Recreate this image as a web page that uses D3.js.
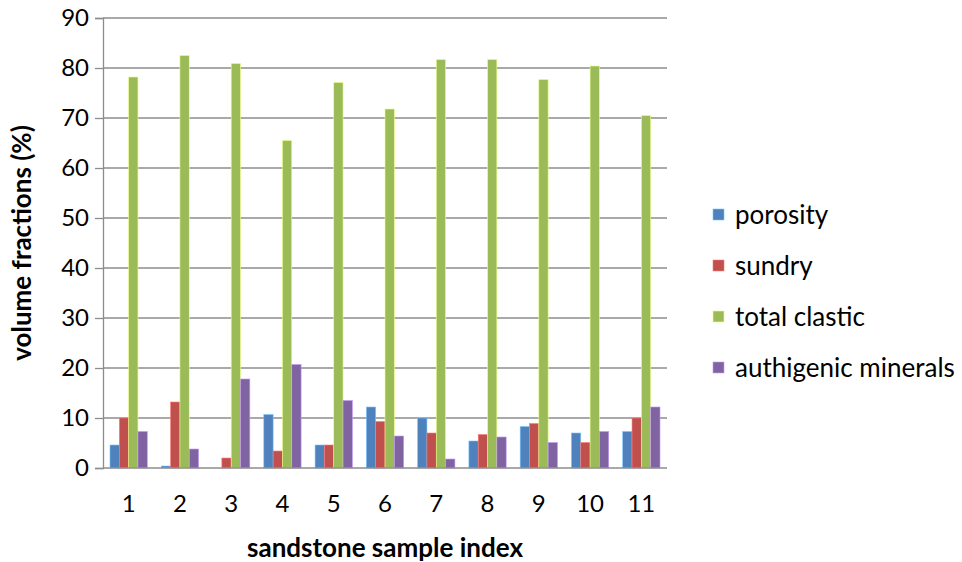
<!DOCTYPE html>
<html>
<head>
<meta charset="utf-8">
<script src="https://cdn.jsdelivr.net/npm/d3@7"></script>
<style>
  html, body { margin: 0; padding: 0; background: #fff; }
  svg { display: block; }
  text { font-family: Lato, "Liberation Sans", sans-serif; fill: #000; }
</style>
</head>
<body>
<svg id="chart" width="962" height="562"></svg>
<script>
const categories = ["1","2","3","4","5","6","7","8","9","10","11"];
const seriesNames = ["porosity","sundry","total clastic","authigenic minerals"];
const porosity   = [4.6, 0.4, 0.0, 10.7, 4.6, 12.2, 10.0, 5.4, 8.3, 7.0, 7.3];
const sundry     = [10.0, 13.2, 2.0, 3.4, 4.6, 9.3, 7.0, 6.7, 8.9, 5.1, 10.0];
const totalClastic = [78.2, 82.5, 80.9, 65.5, 77.1, 71.8, 81.7, 81.7, 77.7, 80.4, 70.5];
const authigenic = [7.3, 3.8, 17.8, 20.7, 13.5, 6.4, 1.8, 6.2, 5.1, 7.3, 12.2];
const yTicks = [0,10,20,30,40,50,60,70,80,90];
const colors = ["#4F81BD","#C0504D","#9BBB59","#8064A2"];

const seriesValues = [porosity, sundry, totalClastic, authigenic];

const svg = d3.select("#chart");
const plot = {left: 103, right: 667, top: 18, bottom: 468};

const x = d3.scaleBand().domain(categories).range([plot.left, plot.right]).paddingInner(0.2727).paddingOuter(0.1364);
const x1 = d3.scaleBand().domain(seriesNames).range([0, x.bandwidth()]);
const y = d3.scaleLinear().domain([0, 90]).range([plot.bottom, plot.top]);

// gridlines
svg.append("g").selectAll("line").data(yTicks.filter(d => d > 0)).join("line")
  .attr("x1", plot.left).attr("x2", plot.right)
  .attr("y1", d => y(d)).attr("y2", d => y(d))
  .attr("stroke", "#8c8c8c").attr("stroke-width", 1.3);

// y axis
const yAxis = d3.axisLeft(y).tickValues(yTicks).tickSize(8).tickPadding(6).tickFormat(d3.format("d"));
const gy = svg.append("g").attr("transform", `translate(${plot.left},0)`).call(yAxis);
gy.select(".domain").attr("stroke", "#8c8c8c").attr("stroke-width", 1.3);
gy.selectAll(".tick line").attr("stroke", "#8c8c8c").attr("stroke-width", 1.3);
gy.selectAll(".tick text").attr("font-size", 24).attr("font-family", "Lato, sans-serif").attr("fill", "#000");

// bars
const groups = svg.append("g").selectAll("g").data(categories).join("g")
  .attr("transform", d => `translate(${x(d)},0)`);
groups.selectAll("rect").data((d, i) => seriesNames.map((s, j) => ({s, j, v: seriesValues[j][i]})))
  .join("rect")
  .attr("x", d => x1(d.s))
  .attr("width", x1.bandwidth())
  .attr("y", d => y(d.v))
  .attr("height", d => y(0) - y(d.v))
  .attr("fill", d => colors[d.j])
  .attr("stroke", d => d3.color(colors[d.j]).brighter(1.2))
  .attr("stroke-width", 0.6);

// x axis
const xAxis = d3.axisBottom(x).tickSize(0).tickPadding(27);
const gx = svg.append("g").attr("transform", `translate(0,${plot.bottom})`).call(xAxis);
gx.select(".domain").attr("stroke", "#8c8c8c").attr("stroke-width", 1.3).attr("d", `M${plot.left},0H${plot.right}`);
gx.selectAll(".tick text").attr("font-size", 24).attr("font-family", "Lato, sans-serif").attr("fill", "#000");

// axis titles
svg.append("text").attr("x", (plot.left + plot.right) / 2).attr("y", 557)
  .attr("text-anchor", "middle").attr("font-size", 26).attr("font-weight", "bold")
  .text("sandstone sample index");
svg.append("text").attr("transform", `translate(31,${(plot.top + plot.bottom) / 2}) rotate(-90)`)
  .attr("text-anchor", "middle").attr("font-size", 26).attr("font-weight", "bold")
  .text("volume fractions (%)");

// legend
const legend = svg.append("g").selectAll("g").data(seriesNames).join("g")
  .attr("transform", (d, i) => `translate(713,${215 + i * 51})`);
legend.append("rect").attr("x", 0).attr("y", -6).attr("width", 11).attr("height", 11)
  .attr("fill", (d, i) => colors[i]).attr("stroke", (d, i) => d3.color(colors[i]).brighter(1.2)).attr("stroke-width", 0.6);
legend.append("text").attr("x", 22).attr("y", 0).attr("dy", "0.35em")
  .attr("font-size", 26).text(d => d);
</script>
</body>
</html>
